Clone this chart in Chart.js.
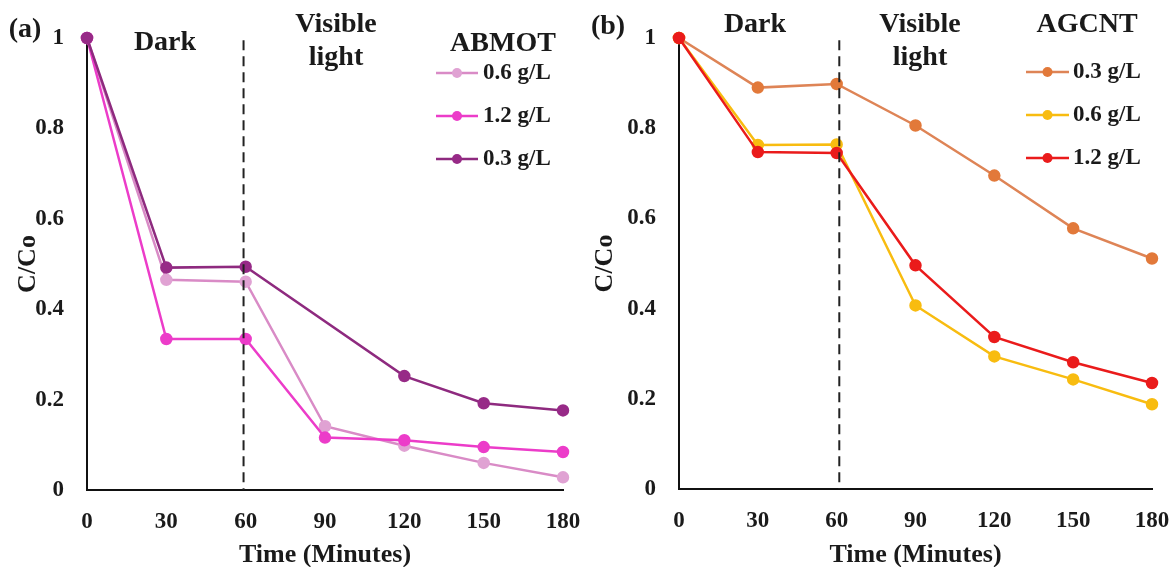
<!DOCTYPE html>
<html lang="en">
<head>
<meta charset="UTF-8">
<title>C/Co vs time - ABMOT and AGCNT</title>
<script src="https://cdn.jsdelivr.net/npm/chart.js"></script>
<style>
    html, body { margin: 0; padding: 0; background: #fff; }
    .wrap { display: flex; width: 1174px; height: 567px; }
    .panel { position: relative; width: 587px; height: 567px; }
</style>
</head>
<body>
<div class="wrap">
    <div class="panel"><canvas id="chartA"></canvas></div>
    <div class="panel"><canvas id="chartB"></canvas></div>
</div>
<script>
const times = [0, 30, 60, 90, 120, 150, 180];
const yTicks = [0, 0.2, 0.4, 0.6, 0.8, 1];

// (a) ABMOT
const abmotLabels = ["0.6 g/L", "1.2 g/L", "0.3 g/L"];
const abmot06 = [1, 0.465, 0.461, 0.141, 0.098, 0.060, 0.028];
const abmot12 = [1, 0.334, 0.334, 0.116, 0.110, 0.095, 0.084];
const abmot03 = [1, 0.492, 0.494, null, 0.252, 0.192, 0.176];

// (b) AGCNT
const agcntLabels = ["0.3 g/L", "0.6 g/L", "1.2 g/L"];
const agcnt03 = [1, 0.890, 0.898, 0.806, 0.695, 0.578, 0.511];
const agcnt06 = [1, 0.763, 0.764, 0.407, 0.294, 0.243, 0.188];
const agcnt12 = [1, 0.747, 0.745, 0.496, 0.337, 0.281, 0.235];

Chart.defaults.font.family = '"Liberation Serif", "Times New Roman", serif';
Chart.defaults.font.weight = 'bold';
Chart.defaults.color = '#1a1a1a';

const SERIF = '"Liberation Serif", "Times New Roman", serif';

function series(label, values, color, lineColor, order) {
    return {
        label: label,
        data: times.map((t, i) => ({ x: t, y: values[i] })),
        borderColor: lineColor || color,
        backgroundColor: color,
        pointBackgroundColor: color,
        pointBorderColor: color,
        pointRadius: 5,
        pointHoverRadius: 5,
        borderWidth: 2.5,
        tension: 0,
        spanGaps: true,
        clip: false,
        order: order
    };
}

// dashed divider, region notes, header and legend
const panelText = {
    id: 'panelText',
    afterDatasetsDraw(chart, args, opts) {
        const ctx = chart.ctx;
        const xs = chart.scales.x, ys = chart.scales.y;
        ctx.save();
        const dx = xs.getPixelForValue(opts.divider);
        ctx.strokeStyle = '#222';
        ctx.lineWidth = 2;
        ctx.setLineDash([10, 6]);
        ctx.beginPath();
        ctx.moveTo(dx, ys.getPixelForValue(0.995));
        ctx.lineTo(dx, ys.bottom);
        ctx.stroke();
        ctx.restore();
    },
    afterDraw(chart, args, opts) {
        const ctx = chart.ctx;
        ctx.save();
        ctx.fillStyle = '#1a1a1a';
        ctx.textBaseline = 'middle';
        ctx.textAlign = 'center';
        ctx.font = 'bold 28px ' + SERIF;
        opts.notes.forEach(n => ctx.fillText(n.text, n.x, n.y));

        // legend
        const lg = opts.legend;
        chart.data.datasets.forEach((ds, i) => {
            const y = lg.y0 + i * lg.step;
            ctx.strokeStyle = ds.borderColor;
            ctx.lineWidth = 2.5;
            ctx.beginPath();
            ctx.moveTo(lg.x0, y);
            ctx.lineTo(lg.x1, y);
            ctx.stroke();
            ctx.fillStyle = ds.pointBackgroundColor;
            ctx.beginPath();
            ctx.arc((lg.x0 + lg.x1) / 2, y, 5, 0, Math.PI * 2);
            ctx.fill();
            ctx.fillStyle = '#1a1a1a';
            ctx.textAlign = 'left';
            ctx.font = 'bold 23px ' + SERIF;
            ctx.fillText(ds.label, lg.tx, y);
        });
        ctx.restore();
    }
};

function makeOptions(p) {
    return {
        responsive: false,
        animation: false,
        layout: { autoPadding: false, padding: { top: p.top, right: p.right, left: 0, bottom: 0 } },
        scales: {
            x: {
                type: 'linear',
                min: 0,
                max: 180,
                afterBuildTicks: s => { s.ticks = times.map(v => ({ value: v })); },
                afterFit: s => {
                    s.height = p.xHeight;
                    // tick padding is meant to be vertical only
                    s.paddingLeft = 0;
                    s.paddingRight = 0;
                },
                grid: { display: false, drawTicks: false },
                border: { color: '#111', width: 2 },
                ticks: { padding: 18, font: { size: 23, weight: 'bold' }, color: '#1a1a1a' },
                title: {
                    display: true,
                    text: 'Time (Minutes)',
                    font: { size: 26, weight: 'bold', lineHeight: 1 },
                    padding: { top: 0, bottom: -1 },
                    color: '#1a1a1a'
                }
            },
            y: {
                min: 0,
                max: 1,
                afterBuildTicks: s => { s.ticks = yTicks.map(v => ({ value: v })); },
                afterFit: s => { s.width = p.yWidth; },
                grid: { display: false, drawTicks: false },
                border: { color: '#111', width: 2 },
                ticks: {
                    padding: 23,
                    font: { size: 23, weight: 'bold' },
                    color: '#1a1a1a',
                    callback: v => String(+v.toFixed(1))
                },
                title: {
                    display: true,
                    text: 'C/Co',
                    font: { size: 26, weight: 'bold', lineHeight: 1 },
                    padding: { top: p.yTitlePad, bottom: 0 },
                    color: '#1a1a1a'
                }
            }
        },
        plugins: {
            legend: { display: false },
            tooltip: { enabled: false },
            panelText: {
                divider: p.divider,
                notes: p.notes,
                legend: p.legend
            }
        }
    };
}

const canvasA = document.getElementById('chartA');
canvasA.width = 587; canvasA.height = 567;
new Chart(canvasA, {
    type: 'line',
    data: {
        datasets: [
            series(abmotLabels[0], abmot06, '#E0A2D3', '#D98BC6', 2),
            series(abmotLabels[1], abmot12, '#EC3CC9', null, 1),
            series(abmotLabels[2], abmot03, '#972A87', '#8E2A7F', 0)
        ]
    },
    options: makeOptions({
        top: 38, right: 24, xHeight: 77, yWidth: 87, yTitlePad: 15, divider: 59.2,
        notes: [
            { text: '(a)', x: 25, y: 30 },
            { text: 'Dark', x: 165, y: 43 },
            { text: 'Visible', x: 336, y: 25 },
            { text: 'light', x: 336, y: 58 },
            { text: 'ABMOT', x: 503, y: 44 }
        ],
        legend: { x0: 436, x1: 478, tx: 483, y0: 73, step: 43 }
    }),
    plugins: [panelText]
});

const canvasB = document.getElementById('chartB');
canvasB.width = 587; canvasB.height = 567;
new Chart(canvasB, {
    type: 'line',
    data: {
        datasets: [
            series(agcntLabels[0], agcnt03, '#E2793A', '#DE8456', 2),
            series(agcntLabels[1], agcnt06, '#F8BC10', null, 1),
            series(agcntLabels[2], agcnt12, '#EA1B1B', null, 0)
        ]
    },
    options: makeOptions({
        top: 38, right: 22, xHeight: 78, yWidth: 92, yTitlePad: 5, divider: 61,
        notes: [
            { text: '(b)', x: 21, y: 27 },
            { text: 'Dark', x: 168, y: 25 },
            { text: 'Visible', x: 333, y: 25 },
            { text: 'light', x: 333, y: 58 },
            { text: 'AGCNT', x: 500, y: 25 }
        ],
        legend: { x0: 439, x1: 482, tx: 486, y0: 72, step: 43 }
    }),
    plugins: [panelText]
});
</script>
</body>
</html>
